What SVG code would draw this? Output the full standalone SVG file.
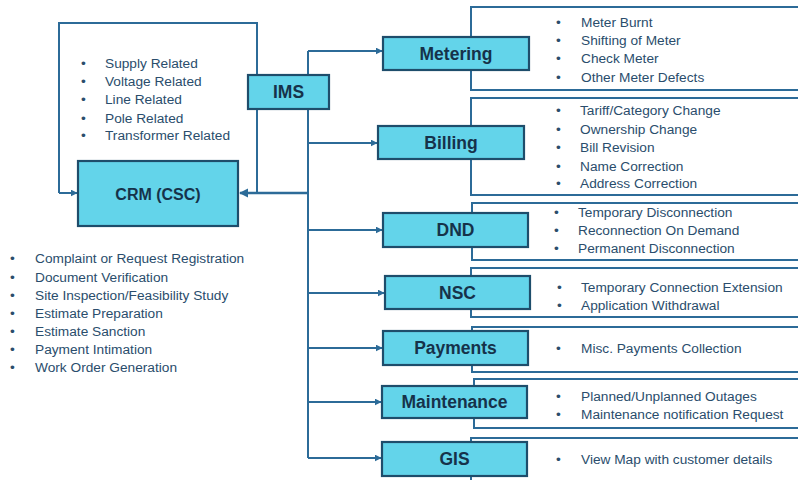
<svg xmlns="http://www.w3.org/2000/svg" width="798" height="480" viewBox="0 0 798 480">
<style>
.bx{fill:#63d4ea;stroke:#1e4d6b;stroke-width:2.2}
.bt{font-family:"Liberation Sans",Arial,sans-serif;font-weight:bold;font-size:17.5px;fill:#16324a;text-anchor:middle;dominant-baseline:central}
.pn{fill:#ffffff;stroke:#2c6b98;stroke-width:2}
.ln{fill:none;stroke:#2c6b98;stroke-width:2}
.it{font-family:"Liberation Sans",Arial,sans-serif;font-size:13.7px;fill:#2a4d6c;dominant-baseline:central}
</style>
<defs>
<marker id="ah" viewBox="0 0 10 10" refX="9" refY="5" markerWidth="3.5" markerHeight="3.5" orient="auto" markerUnits="strokeWidth">
<path d="M0,0 L10,5 L0,10 z" fill="#2c6b98"/>
</marker>
</defs>
<rect width="798" height="480" fill="#ffffff"/>

<g id="panels">
<rect class="pn" x="471" y="7" width="340" height="83"/>
<rect class="pn" x="471" y="98" width="340" height="97"/>
<rect class="pn" x="472" y="203" width="340" height="57"/>
<rect class="pn" x="471" y="268" width="340" height="49"/>
<rect class="pn" x="472" y="327" width="340" height="45"/>
<rect class="pn" x="474" y="379" width="340" height="49"/>
<rect class="pn" x="471" y="438" width="340" height="60"/>
</g>

<g id="connectors">
<path class="ln" d="M59,193 L59,23 L257,23 L257,193"/>
<path class="ln" d="M59,193 L77,193" marker-end="url(#ah)"/>
<path class="ln" d="M308,51 L308,458"/>
<path class="ln" style="stroke-width:2.6" d="M308,193 L240,193" marker-end="url(#ah)"/>
<path class="ln" d="M308,51 L382,51" marker-end="url(#ah)"/>
<path class="ln" d="M308,143 L377,143" marker-end="url(#ah)"/>
<path class="ln" d="M308,230 L382,230" marker-end="url(#ah)"/>
<path class="ln" d="M308,293 L384,293" marker-end="url(#ah)"/>
<path class="ln" d="M308,348 L382,348" marker-end="url(#ah)"/>
<path class="ln" d="M308,402 L381,402" marker-end="url(#ah)"/>
<path class="ln" d="M308,458 L381,458" marker-end="url(#ah)"/>
</g>

<g id="crm">
<rect class="bx" x="78" y="161" width="160" height="65"/>
<text class="bt" x="158" y="194" style="font-size:16px">CRM (CSC)</text>
</g>
<g id="ims">
<rect class="bx" x="248" y="75" width="81" height="34"/>
<text class="bt" x="288.5" y="92">IMS</text>
</g>
<g id="metering">
<rect class="bx" x="383" y="37" width="146" height="33"/>
<text class="bt" x="456" y="54">Metering</text>
</g>
<g id="billing">
<rect class="bx" x="378" y="126" width="146" height="33"/>
<text class="bt" x="451" y="143">Billing</text>
</g>
<g id="dnd">
<rect class="bx" x="383" y="213" width="145" height="34"/>
<text class="bt" x="455.5" y="230">DND</text>
</g>
<g id="nsc">
<rect class="bx" x="385" y="276" width="145" height="33"/>
<text class="bt" x="457.5" y="293">NSC</text>
</g>
<g id="payments">
<rect class="bx" x="383" y="331" width="145" height="34"/>
<text class="bt" x="455.5" y="348">Payments</text>
</g>
<g id="maintenance">
<rect class="bx" x="382" y="386" width="145" height="32"/>
<text class="bt" x="454.5" y="402">Maintenance</text>
</g>
<g id="gis">
<rect class="bx" x="382" y="442" width="145" height="34"/>
<text class="bt" x="454.5" y="459">GIS</text>
</g>

<g id="loop-items">
<text class="it" x="81" y="63">•</text><text class="it" x="105" y="63">Supply Related</text>
<text class="it" x="81" y="81">•</text><text class="it" x="105" y="81">Voltage Related</text>
<text class="it" x="81" y="99">•</text><text class="it" x="105" y="99">Line Related</text>
<text class="it" x="81" y="118">•</text><text class="it" x="105" y="118">Pole Related</text>
<text class="it" x="81" y="135">•</text><text class="it" x="105" y="135">Transformer Related</text>
</g>

<g id="crm-items">
<text class="it" x="10" y="258">•</text><text class="it" x="35" y="258">Complaint or Request Registration</text>
<text class="it" x="10" y="277">•</text><text class="it" x="35" y="277">Document Verification</text>
<text class="it" x="10" y="295">•</text><text class="it" x="35" y="295">Site Inspection/Feasibility Study</text>
<text class="it" x="10" y="313">•</text><text class="it" x="35" y="313">Estimate Preparation</text>
<text class="it" x="10" y="331">•</text><text class="it" x="35" y="331">Estimate Sanction</text>
<text class="it" x="10" y="349">•</text><text class="it" x="35" y="349">Payment Intimation</text>
<text class="it" x="10" y="367">•</text><text class="it" x="35" y="367">Work Order Generation</text>
</g>

<g id="metering-items">
<text class="it" x="556" y="22">•</text><text class="it" x="581" y="22">Meter Burnt</text>
<text class="it" x="556" y="40">•</text><text class="it" x="581" y="40">Shifting of Meter</text>
<text class="it" x="556" y="58">•</text><text class="it" x="581" y="58">Check Meter</text>
<text class="it" x="556" y="77">•</text><text class="it" x="581" y="77">Other Meter Defects</text>
</g>
<g id="billing-items">
<text class="it" x="556" y="110">•</text><text class="it" x="580" y="110">Tariff/Category Change</text>
<text class="it" x="556" y="129">•</text><text class="it" x="580" y="129">Ownership Change</text>
<text class="it" x="556" y="147">•</text><text class="it" x="580" y="147">Bill Revision</text>
<text class="it" x="556" y="166">•</text><text class="it" x="580" y="166">Name Correction</text>
<text class="it" x="556" y="183">•</text><text class="it" x="580" y="183">Address Correction</text>
</g>
<g id="dnd-items">
<text class="it" x="554" y="212">•</text><text class="it" x="578" y="212">Temporary Disconnection</text>
<text class="it" x="554" y="230">•</text><text class="it" x="578" y="230">Reconnection On Demand</text>
<text class="it" x="554" y="248">•</text><text class="it" x="578" y="248">Permanent Disconnection</text>
</g>
<g id="nsc-items">
<text class="it" x="557" y="287">•</text><text class="it" x="581" y="287">Temporary Connection Extension</text>
<text class="it" x="557" y="305">•</text><text class="it" x="581" y="305">Application Withdrawal</text>
</g>
<g id="payments-items">
<text class="it" x="556" y="348">•</text><text class="it" x="581" y="348">Misc. Payments Collection</text>
</g>
<g id="maintenance-items">
<text class="it" x="556" y="396">•</text><text class="it" x="581" y="396">Planned/Unplanned Outages</text>
<text class="it" x="556" y="414">•</text><text class="it" x="581" y="414">Maintenance notification Request</text>
</g>
<g id="gis-items">
<text class="it" x="556" y="459">•</text><text class="it" x="581" y="459">View Map with customer details</text>
</g>
</svg>
